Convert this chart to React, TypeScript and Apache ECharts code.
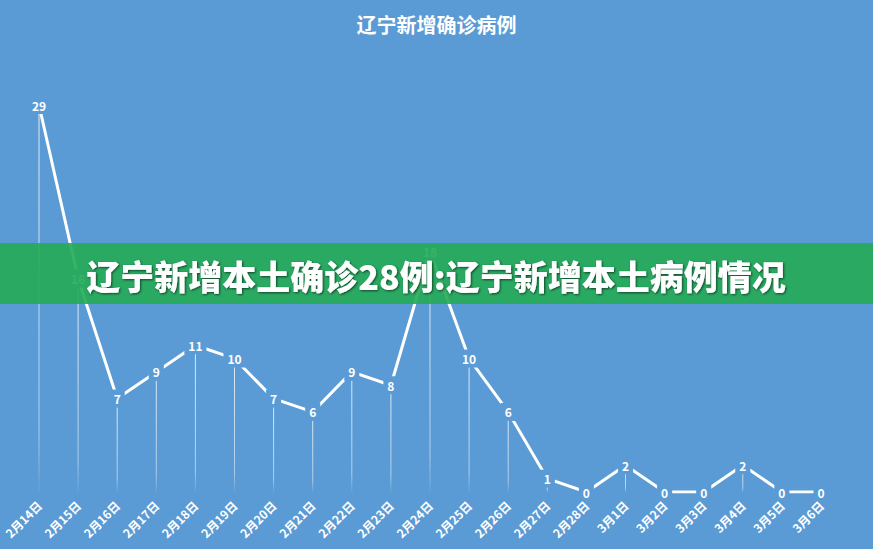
import React, { useEffect, useRef } from "react";
import * as echarts from "echarts";

const categories = [
  "2月14日", "2月15日", "2月16日", "2月17日", "2月18日", "2月19日", "2月20日",
  "2月21日", "2月22日", "2月23日", "2月24日", "2月25日", "2月26日", "2月27日",
  "2月28日", "3月1日", "3月2日", "3月3日", "3月4日", "3月5日", "3月6日",
];
const newCases = [29, 16, 7, 9, 11, 10, 7, 6, 9, 8, 18, 10, 6, 1, 0, 2, 0, 0, 2, 0, 0];
const chartTitle = "辽宁新增确诊病例";
const bannerText = "辽宁新增本土确诊28例:辽宁新增本土病例情况";

export default function App() {
  const ref = useRef<HTMLDivElement>(null);
  useEffect(() => {
    if (!ref.current) return;
    const chart = echarts.init(ref.current, null, { renderer: "svg" });
    const font = "'Noto Sans CJK SC', 'Noto Sans', sans-serif";
    const bg = "#5B9BD5";
    chart.setOption({
      animation: false,
      backgroundColor: bg,
      title: {
        text: chartTitle,
        left: "center",
        top: 9,
        textStyle: { color: "#ffffff", fontSize: 20, fontWeight: "bold", fontFamily: font },
      },
      grid: { left: 39, right: 52, top: 105, bottom: 57 },
      xAxis: {
        type: "category",
        data: categories,
        boundaryGap: false,
        axisLine: { show: false },
        axisTick: { show: false },
        splitLine: { show: false },
        axisLabel: {
          rotate: 45,
          interval: 0,
          color: "#ffffff",
          fontSize: 12,
          fontWeight: "bold",
          fontFamily: font,
          margin: 11,
        },
      },
      yAxis: {
        type: "value",
        min: 0,
        max: 29,
        show: false,
        splitLine: { show: false },
      },
      series: [
        {
          type: "bar",
          data: newCases,
          barWidth: 1,
          silent: true,
          itemStyle: {
            color: {
              type: "linear", x: 0, y: 0, x2: 0, y2: 1,
              colorStops: [
                { offset: 0, color: "rgba(255,255,255,0.8)" },
                { offset: 0.85, color: "rgba(255,255,255,0.5)" },
                { offset: 1, color: "rgba(255,255,255,0.05)" },
              ],
            },
          },
          z: 1,
        },
        {
          type: "line",
          data: newCases,
          showSymbol: true,
          symbol: "circle",
          symbolSize: 1,
          itemStyle: { color: "rgba(255,255,255,0)" },
          lineStyle: { color: "#ffffff", width: 3 },
          label: {
            show: true,
            position: "inside",
            color: "#ffffff",
            fontSize: 12,
            fontWeight: "bold",
            fontFamily: font,
            backgroundColor: bg,
            padding: [3, 4, 3, 4],
          },
          z: 3,
        },
      ],
      graphic: [
        {
          type: "rect",
          z: 100,
          shape: { x: 0, y: 243, width: 873, height: 61 },
          style: { fill: "rgba(36,171,84,0.9)" },
        },
        {
          type: "text",
          z: 101,
          x: 436,
          y: 275,
          style: {
            text: bannerText,
            fill: "#ffffff",
            fontSize: 34,
            fontWeight: 900,
            fontFamily: font,
            align: "center",
            verticalAlign: "middle",
            textShadowColor: "rgba(0,0,0,0.6)",
            textShadowBlur: 2,
            textShadowOffsetX: 1,
            textShadowOffsetY: 1,
          },
        },
      ],
    });
    return () => chart.dispose();
  }, []);
  return (
    <div
      ref={ref}
      style={{ position: "fixed", left: 0, top: 0, width: 873, height: 549 }}
    />
  );
}
